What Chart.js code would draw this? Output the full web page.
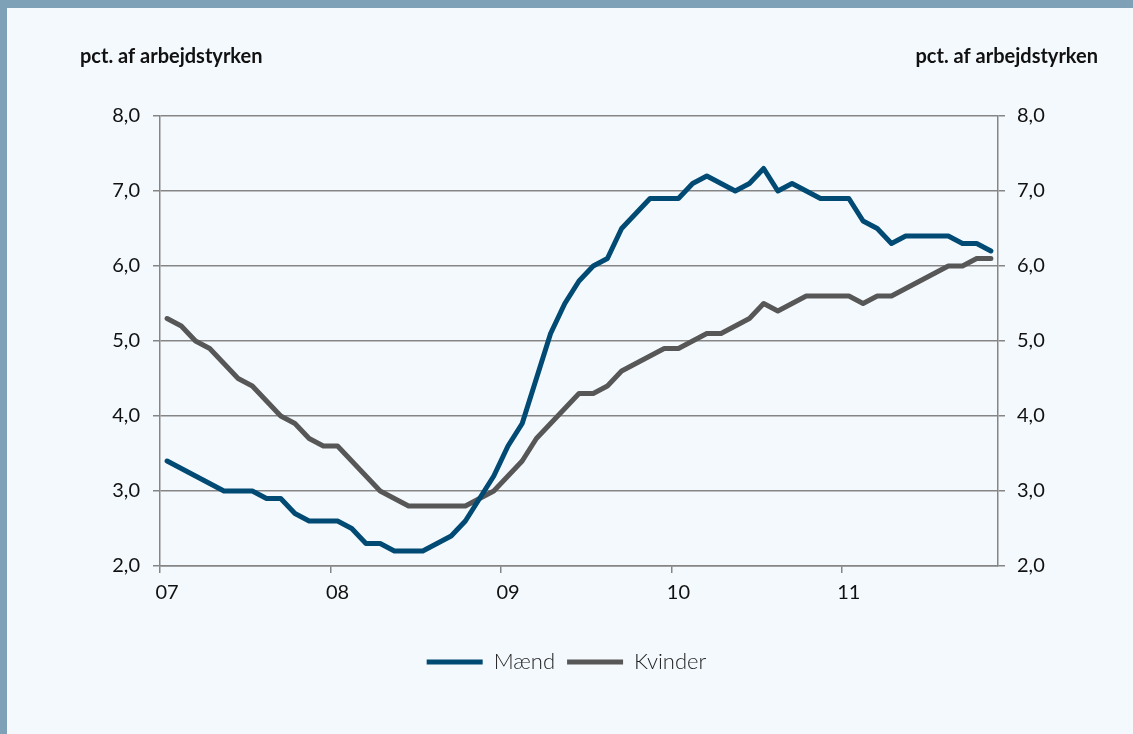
<!DOCTYPE html>
<html>
<head>
<meta charset="utf-8">
<script src="https://cdn.jsdelivr.net/npm/chart.js@4.4.0/dist/chart.umd.min.js"></script>
<style>
  html, body { margin: 0; padding: 0; }
  body { width: 1133px; height: 734px; background: #f4f9fd; position: relative; overflow: hidden; }
  #band { position: absolute; left: 0; top: 0; width: 1133px; height: 8px; background: #7fa1b7; }
  #edge { position: absolute; left: 0; top: 0; width: 7px; height: 734px; background: #7fa1b7; }
  #ledighed { position: absolute; left: 0; top: 0; }
</style>
</head>
<body>
<div id="band"></div>
<div id="edge"></div>
<canvas id="ledighed" width="1133" height="734"></canvas>
<script>
// months Jan 2007 - Nov 2011
var years = ["07", "08", "09", "10", "11"];
var months = [];
for (var y = 0; y < years.length; y++) {
    for (var m = 1; m <= 12; m++) {
        if (y === 4 && m === 12) break;
        months.push("20" + years[y] + "M" + (m < 10 ? "0" + m : m));
    }
}

var maend = [3.4, 3.3, 3.2, 3.1, 3.0, 3.0, 3.0, 2.9, 2.9, 2.7,
    2.6, 2.6, 2.6, 2.5, 2.3, 2.3, 2.2, 2.2, 2.2, 2.3,
    2.4, 2.6, 2.9, 3.2, 3.6, 3.9, 4.5, 5.1, 5.5, 5.8,
    6.0, 6.1, 6.5, 6.7, 6.9, 6.9, 6.9, 7.1, 7.2, 7.1,
    7.0, 7.1, 7.3, 7.0, 7.1, 7.0, 6.9, 6.9, 6.9, 6.6,
    6.5, 6.3, 6.4, 6.4, 6.4, 6.4, 6.3, 6.3, 6.2];

var kvinder = [5.3, 5.2, 5.0, 4.9, 4.7, 4.5, 4.4, 4.2, 4.0, 3.9,
    3.7, 3.6, 3.6, 3.4, 3.2, 3.0, 2.9, 2.8, 2.8, 2.8,
    2.8, 2.8, 2.9, 3.0, 3.2, 3.4, 3.7, 3.9, 4.1, 4.3,
    4.3, 4.4, 4.6, 4.7, 4.8, 4.9, 4.9, 5.0, 5.1, 5.1,
    5.2, 5.3, 5.5, 5.4, 5.5, 5.6, 5.6, 5.6, 5.6, 5.5,
    5.6, 5.6, 5.7, 5.8, 5.9, 6.0, 6.0, 6.1, 6.1];

var yTicks = [2, 3, 4, 5, 6, 7, 8];
var unitLabel = "pct. af arbejdstyrken";

var axisGrey = "#858585";
var tickFont = { family: "Lato", size: 20 };

function komma(v) { return v.toFixed(1).replace(".", ","); }

// axis headings above both y axes
var headings = {
    id: "headings",
    afterDraw: function (chart) {
        var ctx = chart.ctx, area = chart.chartArea;
        ctx.save();
        ctx.font = "bold 20px Lato";
        ctx.fillStyle = "#111";
        ctx.textBaseline = "middle";
        ctx.textAlign = "left";
        ctx.fillText(unitLabel, area.left - 80, area.top - 59);
        ctx.textAlign = "right";
        ctx.fillText(unitLabel, area.right + 100, area.top - 59);
        ctx.restore();
    }
};

var ctxL = document.getElementById("ledighed").getContext("2d");
var chart = new Chart(ctxL, {
    type: "line",
    data: {
        labels: months,
        datasets: [{
            label: "Mænd",
            data: maend,
            borderColor: "#004a73",
            backgroundColor: "#004a73",
            borderWidth: 5,
            pointRadius: 0,
            tension: 0,
            borderCapStyle: "round",
            borderJoinStyle: "round",
            yAxisID: "y"
        }, {
            label: "Kvinder",
            data: kvinder,
            borderColor: "#575757",
            backgroundColor: "#575757",
            borderWidth: 5,
            pointRadius: 0,
            tension: 0,
            borderCapStyle: "round",
            borderJoinStyle: "round",
            yAxisID: "y"
        }]
    },
    options: {
        responsive: false,
        animation: false,
        layout: { padding: { top: 116, left: 0, right: 0, bottom: 51 } },
        plugins: {
            tooltip: { enabled: false },
            legend: {
                position: "bottom",
                labels: {
                    usePointStyle: true,
                    pointStyle: "line",
                    pointStyleWidth: 56,
                    padding: 12,
                    color: "#222",
                    font: { family: "Lato", size: 22, weight: 300 }
                }
            }
        },
        scales: {
            x: {
                offset: true,
                grid: {
                    offset: true,
                    drawOnChartArea: false,
                    tickLength: 7,
                    lineWidth: 1.5,
                    tickColor: function (c) { return c.index % 12 === 0 ? axisGrey : "rgba(0,0,0,0)"; }
                },
                border: { color: axisGrey, width: 1.5 },
                ticks: {
                    autoSkip: false,
                    maxRotation: 0,
                    padding: 8,
                    color: "#111",
                    font: tickFont,
                    callback: function (v, i) { return i % 12 === 0 ? years[i / 12] : ""; }
                },
                afterFit: function (s) { s.height = 73; }
            },
            y: {
                position: "left",
                min: 2, max: 8,
                afterBuildTicks: function (s) { s.ticks = yTicks.map(function (v) { return { value: v }; }); },
                grid: { color: axisGrey, lineWidth: 1.5, tickLength: 7 },
                border: { color: axisGrey, width: 1.5 },
                ticks: { padding: 13, color: "#111", font: tickFont, callback: komma },
                afterFit: function (s) { s.width = 160; }
            },
            y2: {
                position: "right",
                min: 2, max: 8,
                afterBuildTicks: function (s) { s.ticks = yTicks.map(function (v) { return { value: v }; }); },
                grid: { drawOnChartArea: false, color: axisGrey, lineWidth: 1.5, tickLength: 7 },
                border: { color: axisGrey, width: 1.5 },
                ticks: { padding: 12, color: "#111", font: tickFont, callback: komma },
                afterFit: function (s) { s.width = 135; }
            }
        }
    },
    plugins: [headings]
});
</script>
</body>
</html>
